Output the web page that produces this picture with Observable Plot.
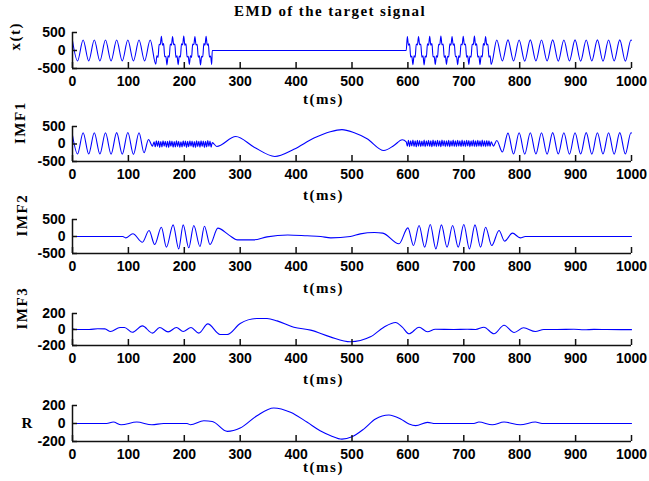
<!DOCTYPE html>
<html><head><meta charset="utf-8">
<script src="https://cdn.jsdelivr.net/npm/d3@7"></script>
<script src="https://cdn.jsdelivr.net/npm/@observablehq/plot@0.6"></script>
<style>
body{margin:0;background:#fff;}
#chart{position:relative;width:649px;height:481px;background:#fff;overflow:hidden;}
#title{position:absolute;left:0;top:3px;width:660px;text-align:center;font:bold 15px "Liberation Serif","Times New Roman",serif;letter-spacing:1.4px;color:#000;}
#chart svg{position:absolute;left:0;}
#chart svg g[aria-label="text"] text{letter-spacing:1.5px;}
</style></head><body>
<div id="chart"><div id="title">EMD of the target signal</div></div>
<script>
// ---------- data (t in ms, value) ----------
const xTicks = [0,100,200,300,400,500,600,700,800,900,1000];
const yTicks500 = [-500,0,500];
const yTicks200 = [-200,0,200];

// x(t)
const xPureA = [[0,270],[9,-290],[19,290],[29,-290],[39,290],[49,-290],[59,290],[69,-290],[79,290],[89,-290],[99,290],[109,-290],[119,290],[129,-290],[139,290]];
const xSpikyA = [[149,-380],[151,-150],[153,-190],[155,175],[157,160],[159,395],[161,150],[163,190],[165,-175],[167,-160],
[169,-400],[171,-145],[173,-185],[175,180],[177,150],[179,385],[181,160],[183,180],[185,-190],[187,-150],
[189,-395],[191,-155],[193,-180],[195,185],[197,155],[199,400],[201,150],[203,185],[205,-180],[207,-160],
[209,-385],[211,-150],[213,-190],[215,180],[217,160],[219,390],[221,155],[223,175],[225,-185],[227,-150],
[229,-400],[231,-160],[233,-180],[235,190],[237,150],[239,395],[241,150],[243,185],[245,-180],[247,-155],[249,-390]];
const xFlat = [[250,0],[597,0]];
const xSpikyB = [[599,390],[601,150],[603,185],[605,-180],[607,-155],[609,-395],[611,-150],[613,-185],[615,180],[617,155],
[619,390],[621,160],[623,180],[625,-185],[627,-150],[629,-400],[631,-155],[633,-180],[635,185],[637,150],
[639,395],[641,150],[643,190],[645,-180],[647,-160],[649,-390],[651,-150],[653,-185],[655,175],[657,160],
[659,400],[661,155],[663,180],[665,-190],[667,-150],[669,-385],[671,-160],[673,-180],[675,185],[677,150],
[679,390],[681,150],[683,185],[685,-175],[687,-160],[689,-395],[691,-150],[693,-190],[695,180],[697,155],
[699,395],[701,160],[703,180],[705,-185],[707,-150],[709,-390],[711,-155],[713,-185],[715,180],[717,160],
[719,400],[721,150],[723,185],[725,-180],[727,-155],[729,-395],[731,-150],[733,-180],[735,190],[737,150],
[739,390],[741,155],[743,180],[745,-185],[747,-150],[749,-385]];
const xPureB = [[759,290],[769,-290],[779,295],[789,-290],[799,290],[809,-295],[819,295],[829,-290],[839,290],[849,-290],
[859,295],[869,-295],[879,290],[889,-290],[899,295],[909,-295],[919,290],[929,-290],[939,295],[949,-295],
[959,290],[969,-290],[979,295],[989,-295],[999,290],[1000,285]];

// IMF1
const imf1A = [[0,250],[9,-285],[19,320],[29,-285],[39,320],[49,-285],[59,320],[69,-290],[79,325],[89,-290],[99,330],[109,-295],[119,320],[128,-250],[136,130],[143,-60]];
const imf1BandA = [[146,60],[148,-80],[150,90],[152,-70],[154,85],[156,-95],[158,70],[160,-85],[162,95],[164,-60],
[166,80],[168,-90],[170,75],[172,-95],[174,90],[176,-65],[178,85],[180,-90],[182,70],[184,-85],
[186,95],[188,-75],[190,80],[192,-95],[194,65],[196,-85],[198,90],[200,-70],[202,85],[204,-95],
[206,75],[208,-80],[210,95],[212,-65],[214,85],[216,-90],[218,70],[220,-95],[222,90],[224,-75],
[226,80],[228,-90],[230,95],[232,-70],[234,85],[236,-95],[238,75],[240,-85],[242,100],[244,-70],
[246,85],[248,-90],[250,40]];
const imf1Slow = [[258,-70],[292,215],[325,-90],[362,-355],[396,-150],[432,170],[461,350],[482,410],[503,330],[527,150],[557,-186],[575,-43],[590,120]];
const imf1BandB = [[597,60],[599,-60],[601,105],[603,-75],[605,95],[607,-55],[609,110],[611,-70],[613,90],[615,-80],
[617,105],[619,-60],[621,100],[623,-75],[625,85],[627,-65],[629,110],[631,-80],[633,95],[635,-55],
[637,105],[639,-70],[641,90],[643,-80],[645,110],[647,-60],[649,95],[651,-75],[653,105],[655,-65],
[657,90],[659,-80],[661,110],[663,-55],[665,100],[667,-75],[669,90],[671,-65],[673,105],[675,-80],
[677,95],[679,-60],[681,110],[683,-70],[685,90],[687,-75],[689,105],[691,-60],[693,95],[695,-80],
[697,110],[699,-65],[701,90],[703,-75],[705,105],[707,-55],[709,100],[711,-80],[713,95],[715,-65],
[717,110],[719,-70],[721,90],[723,-75],[725,105],[727,-60],[729,95],[731,-80],[733,110],[735,-65],
[737,90],[739,-75],[741,100],[743,-60],[745,95],[747,-70],[749,60]];
const imf1B = [[753,-60],[759,100],[769,-230],[779,310],[789,-285],[799,320],[809,-290],[819,320],[829,-285],[839,320],
[849,-290],[859,325],[869,-285],[879,320],[889,-290],[899,320],[909,-285],[919,325],[929,-290],[939,320],
[949,-285],[959,320],[969,-290],[979,325],[989,-285],[999,320],[1000,315]];

// IMF2
const imf2 = [[0,0],[90,0],[95,-40],[108,80],[125,-167],[137,176],[147,-235],[159,274],[168,-313],[180,343],
[190,-363],[198,343],[208,-333],[217,323],[228,-294],[236,303],[246,-235],[260,245],[280,40],[295,-98],
[324,-98],[348,-10],[385,45],[420,20],[444,0],[462,-40],[497,0],[515,78],[540,118],[555,100],
[584,-215],[600,255],[610,-265],[620,323],[630,-313],[640,353],[650,-363],[660,343],[670,-313],[680,323],
[690,-313],[700,353],[710,-363],[720,343],[730,-313],[739,274],[750,-265],[763,176],[773,-137],[787,98],
[801,-40],[810,0],[1000,0]];

// IMF3
const imf3 = [[0,10],[5,0],[30,0],[45,10],[58,8],[68,-25],[85,25],[93,25],[107,-35],[125,45],
[143,-45],[156,25],[171,-30],[186,25],[198,-25],[212,25],[226,-45],[242,70],[264,-62],[277,-62],
[300,75],[330,137],[348,137],[366,108],[396,29],[426,-8],[461,-92],[497,-154],[533,-92],[557,29],
[578,88],[590,29],[602,-54],[620,29],[635,-29],[649,4],[682,0],[706,4],[721,0],[736,29],
[754,-54],[772,54],[790,-37],[807,21],[828,-25],[843,0],[867,0],[897,4],[915,-4],[933,2],[956,0],[1000,-2]];

// R (residue)
const resid = [[0,0],[61,0],[73,16],[87,-14],[115,16],[142,-14],[163,0],[205,0],[211,-14],[235,30],
[250,23],[277,-88],[300,-51],[330,87],[360,173],[390,125],[420,13],[443,-80],[462,-135],[482,-174],
[500,-148],[521,-62],[542,50],[566,95],[587,50],[602,-6],[614,-24],[635,13],[649,0],[718,0],
[727,16],[751,-14],[772,16],[801,-14],[828,16],[840,0],[1000,0]];

const panels = [
  {data: [...xPureA, ...xSpikyA, ...xFlat, ...xSpikyB, ...xPureB], domain: [-500,500], yt: yTicks500, label: "x(t)", rot: -90, ldx: -57, top: 20, mt: 12, mb: 47, fh: 36, xdy: 35},
  {data: [...imf1A, ...imf1BandA, ...imf1Slow, ...imf1BandB, ...imf1B], domain: [-500,500], yt: yTicks500, label: "IMF1", rot: -90, ldx: -52, top: 115, mt: 11, mb: 47, fh: 35, xdy: 38},
  {data: imf2, domain: [-500,500], yt: yTicks500, label: "IMF2", rot: -90, ldx: -50, top: 208, mt: 11, mb: 47, fh: 34, xdy: 39},
  {data: imf3, domain: [-200,200], yt: yTicks200, label: "IMF3", rot: -90, ldx: -50, top: 300, mt: 13, mb: 47, fh: 32, xdy: 38},
  {data: resid, domain: [-200,200], yt: yTicks200, label: "R", rot: 0, ldx: -51, top: 392, mt: 13, mb: 40, fh: 36, xdy: 30}
];

const serif = "'Liberation Serif', 'Times New Roman', serif";
const sans = "'Liberation Sans', Arial, sans-serif";
const fw = 649 - 72 - 18;
const chart = document.getElementById("chart");
const fmt = d => String(d);

for (const p of panels) {
  const svg = Plot.plot({
    width: 649,
    height: p.mt + p.fh + p.mb,
    marginLeft: 72, marginRight: 18, marginTop: p.mt, marginBottom: p.mb,
    style: {fontFamily: sans, fontSize: "14px", fontWeight: "bold", color: "#000", background: "transparent", overflow: "visible"},
    x: {domain: [0, 1000]},
    y: {domain: p.domain},
    marks: [
      Plot.line(p.data, {x: d => d[0], y: d => d[1], stroke: "#0000ff", strokeWidth: 1.1, curve: "monotone-x"}),
      Plot.ruleX([0], {stroke: "#111", strokeWidth: 1.5}),
      Plot.ruleY([p.domain[0]], {stroke: "#111", strokeWidth: 1.5}),
      Plot.tickX(xTicks, {x: d => d, insetTop: p.fh - 6, stroke: "#111", strokeWidth: 1.5}),
      Plot.tickY(p.yt, {y: d => d, insetRight: fw - 5, stroke: "#111", strokeWidth: 1.5}),
      Plot.axisX(xTicks, {tickSize: 0, tickPadding: 8, label: null, tickFormat: fmt, fontSize: 14, fontWeight: "bold", fontFamily: sans}),
      Plot.axisY(p.yt, {tickSize: 0, tickPadding: 7, label: null, tickFormat: fmt, fontSize: 14, fontWeight: "bold", fontFamily: sans}),
      Plot.text([p.label], {frameAnchor: "left", dx: p.ldx, rotate: p.rot, fontFamily: serif, fontSize: 15, fontWeight: "bold", fill: "#000"}),
      Plot.text(["t(ms)"], {frameAnchor: "bottom", dy: p.xdy, dx: 323 - (72 + fw / 2), fontFamily: serif, fontSize: 15, fontWeight: "bold", fill: "#000"})
    ]
  });
  svg.style.top = p.top + "px";
  chart.appendChild(svg);
}
</script></body></html>
